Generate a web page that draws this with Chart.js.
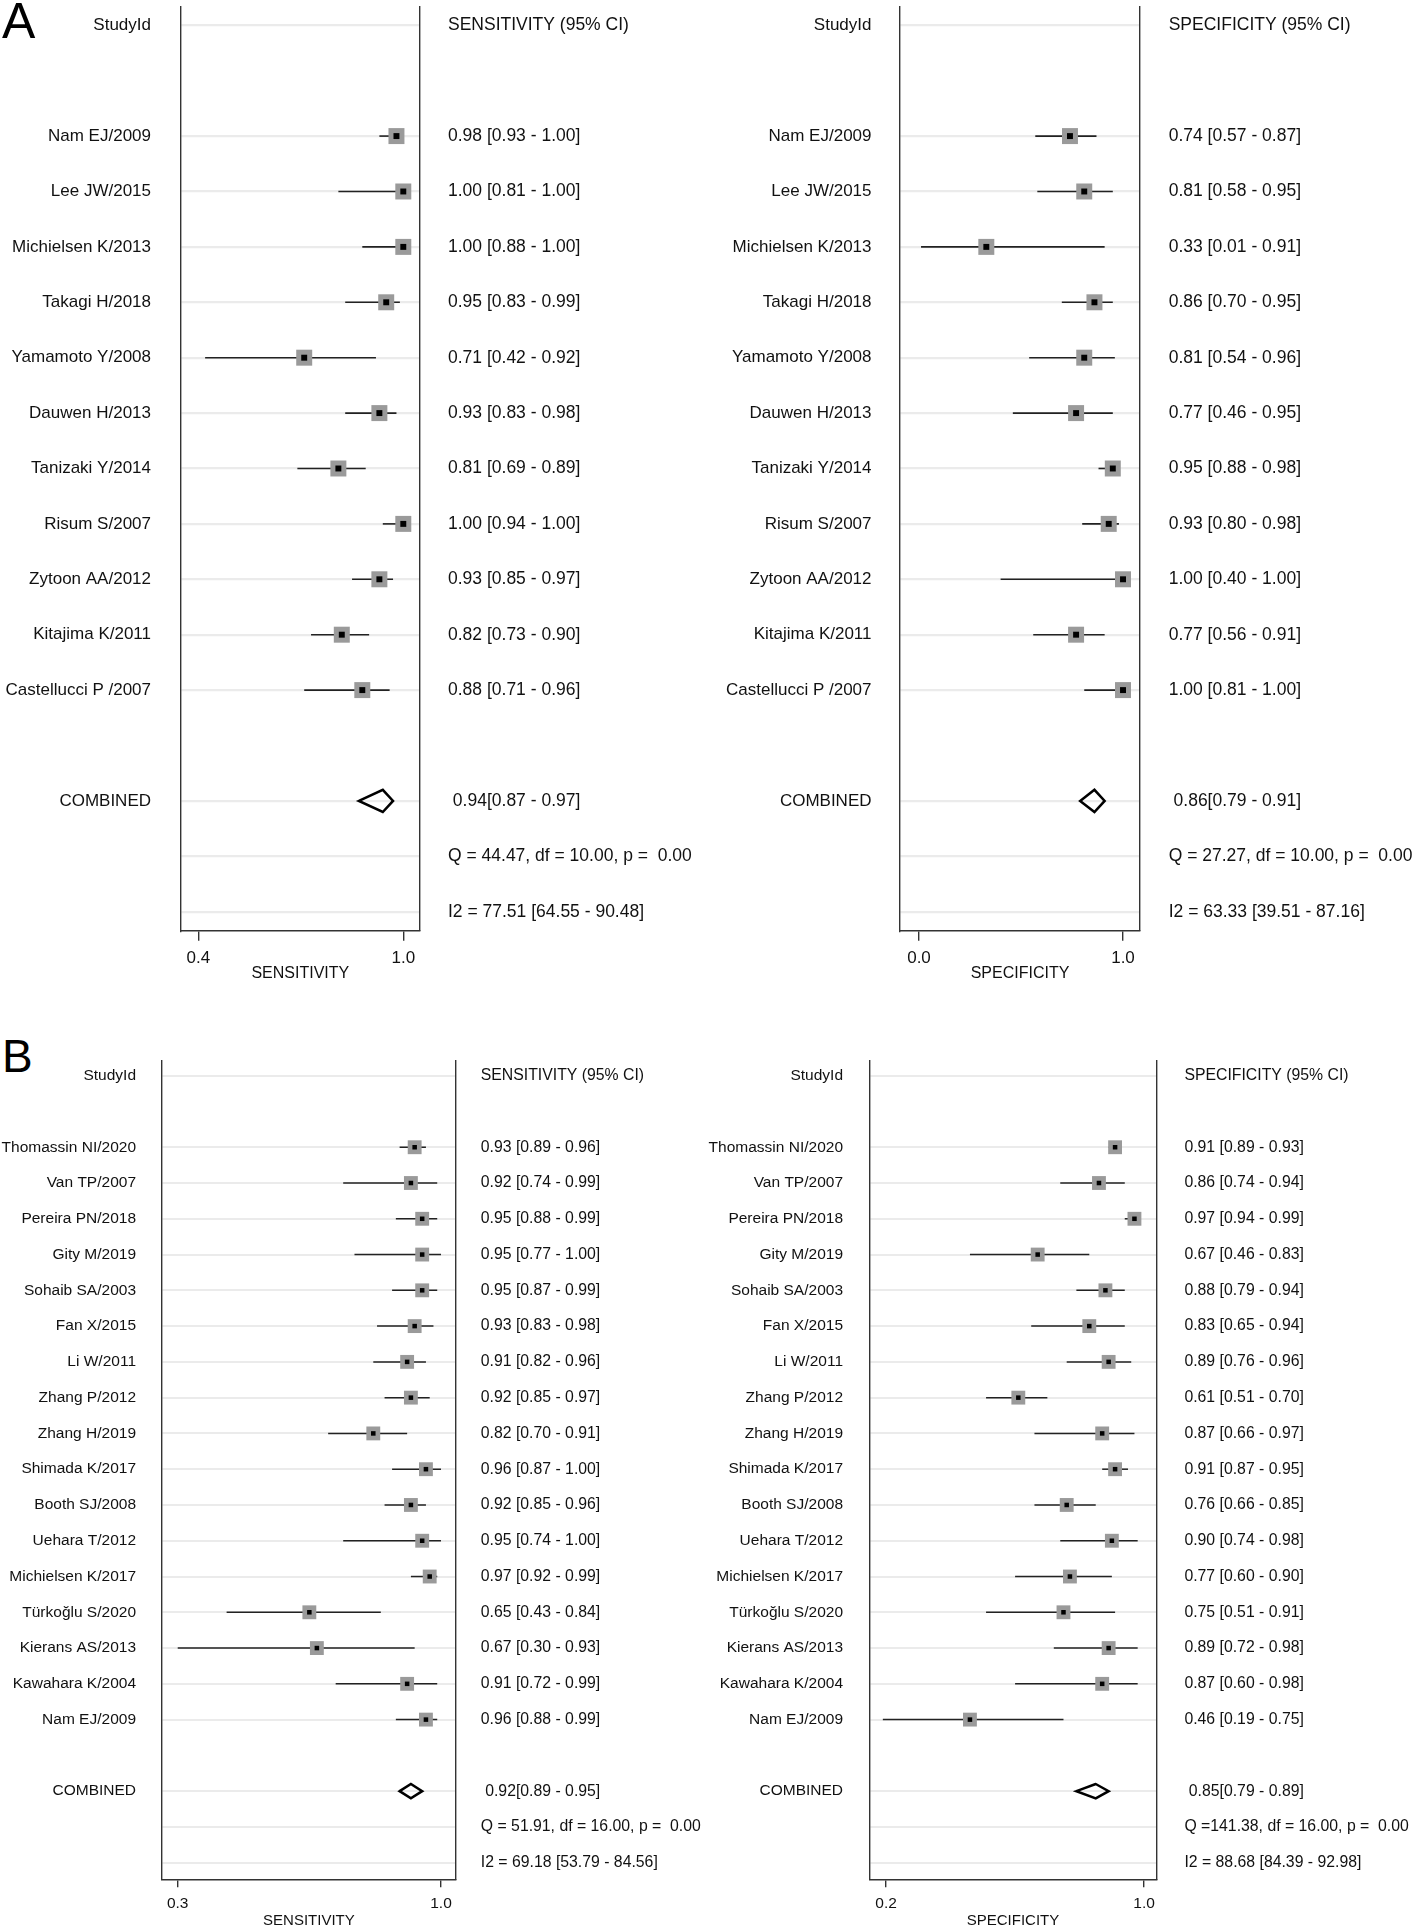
<!DOCTYPE html>
<html>
<head>
<meta charset="utf-8">
<script src="https://cdn.jsdelivr.net/npm/chart.js@4.4.1/dist/chart.umd.min.js"></script>
<style>
html,body{margin:0;padding:0;background:#fff;}
body{width:1417px;height:1930px;position:relative;overflow:hidden;}
canvas{position:absolute;}
.panel{position:absolute;left:2px;font-family:"Liberation Sans",Arial,sans-serif;color:#000;line-height:1;}
</style>
</head>
<body>
<div class="panel" style="top:-3.8px;font-size:50px;">A</div>
<div class="panel" style="top:1033px;font-size:46px;">B</div>
<canvas id="aSens" width="760" height="1000" style="left:0;top:0"></canvas>
<canvas id="aSpec" width="737" height="1000" style="left:680px;top:0"></canvas>
<canvas id="bSens" width="760" height="910" style="left:0;top:1020px"></canvas>
<canvas id="bSpec" width="737" height="910" style="left:680px;top:1020px"></canvas>
<script>
// ---------- DATA ----------
const studiesA = ["Nam EJ/2009","Lee JW/2015","Michielsen K/2013","Takagi H/2018","Yamamoto Y/2008","Dauwen H/2013","Tanizaki Y/2014","Risum S/2007","Zytoon AA/2012","Kitajima K/2011","Castellucci P /2007"];
const sensA   = [0.98,1.00,1.00,0.95,0.71,0.93,0.81,1.00,0.93,0.82,0.88];
const sensALo = [0.93,0.81,0.88,0.83,0.42,0.83,0.69,0.94,0.85,0.73,0.71];
const sensAHi = [1.00,1.00,1.00,0.99,0.92,0.98,0.89,1.00,0.97,0.90,0.96];
const specA   = [0.74,0.81,0.33,0.86,0.81,0.77,0.95,0.93,1.00,0.77,1.00];
const specALo = [0.57,0.58,0.01,0.70,0.54,0.46,0.88,0.80,0.40,0.56,0.81];
const specAHi = [0.87,0.95,0.91,0.95,0.96,0.95,0.98,0.98,1.00,0.91,1.00];
const pooledSensA = [0.94,0.87,0.97];           // estimate, lower, upper
const pooledSpecA = [0.86,0.79,0.91];
const hetSensA = [44.47,10.00,0.00,77.51,64.55,90.48]; // Q, df, p, I2, I2 lower, I2 upper
const hetSpecA = [27.27,10.00,0.00,63.33,39.51,87.16];

const studiesB = ["Thomassin NI/2020","Van TP/2007","Pereira PN/2018","Gity M/2019","Sohaib SA/2003","Fan X/2015","Li W/2011","Zhang P/2012","Zhang H/2019","Shimada K/2017","Booth SJ/2008","Uehara T/2012","Michielsen K/2017","Türkoğlu S/2020","Kierans AS/2013","Kawahara K/2004","Nam EJ/2009"];
const sensB   = [0.93,0.92,0.95,0.95,0.95,0.93,0.91,0.92,0.82,0.96,0.92,0.95,0.97,0.65,0.67,0.91,0.96];
const sensBLo = [0.89,0.74,0.88,0.77,0.87,0.83,0.82,0.85,0.70,0.87,0.85,0.74,0.92,0.43,0.30,0.72,0.88];
const sensBHi = [0.96,0.99,0.99,1.00,0.99,0.98,0.96,0.97,0.91,1.00,0.96,1.00,0.99,0.84,0.93,0.99,0.99];
const specB   = [0.91,0.86,0.97,0.67,0.88,0.83,0.89,0.61,0.87,0.91,0.76,0.90,0.77,0.75,0.89,0.87,0.46];
const specBLo = [0.89,0.74,0.94,0.46,0.79,0.65,0.76,0.51,0.66,0.87,0.66,0.74,0.60,0.51,0.72,0.60,0.19];
const specBHi = [0.93,0.94,0.99,0.83,0.94,0.94,0.96,0.70,0.97,0.95,0.85,0.98,0.90,0.91,0.98,0.98,0.75];
const pooledSensB = [0.92,0.89,0.95];
const pooledSpecB = [0.85,0.79,0.89];
const hetSensB = [51.91,16.00,0.00,69.18,53.79,84.56];
const hetSpecB = [141.38,16.00,0.00,88.68,84.39,92.98];

const xTicksSensA = [0.4, 1.0];
const xTicksSpecA = [0.0, 1.0];
const xTicksSensB = [0.3, 1.0];
const xTicksSpecB = [0.2, 1.0];

// ---------- DRAWING ----------
const FAMILY = "'Liberation Sans', Arial, Helvetica, sans-serif";
const TEXT = '#111111';
const FRAME = '#333333';

function forest(id, o) {
  const n = o.names.length;
  const rC = n + 3;
  const f2 = v => v.toFixed(2);
  const left = ['StudyId', '', ...o.names, '', 'COMBINED', '', ''];
  const right = [o.header, '',
    ...o.est.map((v, i) => `${f2(v)} [${f2(o.lo[i])} - ${f2(o.hi[i])}]`), '',
    ` ${f2(o.pooled[0])}[${f2(o.pooled[1])} - ${f2(o.pooled[2])}]`,
    `Q =${f2(o.het[0]).padStart(6)}, df =${f2(o.het[1]).padStart(6)}, p =${f2(o.het[2]).padStart(6)}`,
    `I2 = ${f2(o.het[3])} [${f2(o.het[4])} - ${f2(o.het[5])}]`];
  const hasGrid = left.map((s, i) => !!(s || right[i]));
  const rows = left.map((_, i) => ({value: i}));

  const datasets = [];
  o.est.forEach((v, i) => datasets.push({
    data: [{x: o.lo[i], y: i + 2}, {x: o.hi[i], y: i + 2}],
    showLine: true, borderColor: '#222222', borderWidth: o.ciW, pointRadius: 0, clip: false, order: 3
  }));
  const pts = o.est.map((v, i) => ({x: v, y: i + 2}));
  datasets.push({data: pts, pointStyle: 'rect', pointRadius: o.sq, backgroundColor: '#9a9a9a', borderWidth: 0, clip: false, order: 2});
  datasets.push({data: pts, pointStyle: 'rect', pointRadius: o.dot, backgroundColor: '#000', borderWidth: 0, clip: false, order: 1});
  const [pe, pl, ph] = o.pooled;
  datasets.push({
    data: [{x: pl, y: rC}, {x: pe, y: rC - 0.2}, {x: ph, y: rC}, {x: pe, y: rC + 0.2}, {x: pl, y: rC}, {x: pe, y: rC - 0.2}],
    showLine: true, borderColor: '#000', borderWidth: 2.5, pointRadius: 0, fill: false,
    borderJoinStyle: 'miter', clip: false, order: 1
  });

  const yCommon = {
    type: 'linear', axis: 'y', reverse: true, min: o.yMin, max: o.yMax, bounds: 'data',
    afterBuildTicks: s => { s.ticks = rows.map(r => ({value: r.value})); }
  };

  new Chart(document.getElementById(id), {
    type: 'scatter',
    data: {datasets},
    options: {
      responsive: false, animation: false, events: [],
      layout: {autoPadding: false, padding: {top: o.top, left: 0, right: 0, bottom: 0}},
      plugins: {legend: {display: false}, tooltip: {enabled: false}, title: {display: false}},
      scales: {
        x: {
          type: 'linear', position: 'bottom', min: o.xMin, max: o.xMax, bounds: 'data',
          afterBuildTicks: s => { s.ticks = o.xTicks.map(v => ({value: v})); },
          afterFit: s => { s.height = o.xH; s.paddingLeft = 0; s.paddingRight = 0; },
          ticks: {autoSkip: false, maxRotation: 0, padding: o.tickPad, color: TEXT,
                  font: {family: FAMILY, size: o.tickFont}, callback: v => Number(v).toFixed(1)},
          grid: {drawOnChartArea: false, drawTicks: true, tickLength: o.tickLen,
                 color: FRAME, tickColor: FRAME, lineWidth: 1.4, tickWidth: 1.4},
          border: {display: true, color: FRAME, width: 1.4},
          title: {display: true, text: o.title, color: TEXT, font: {family: FAMILY, size: o.titleFont},
                  padding: {top: 0, bottom: o.titlePad}}
        },
        y: Object.assign({}, yCommon, {
          position: 'left',
          afterFit: s => { s.width = o.leftW; s.paddingTop = 0; s.paddingBottom = 0; },
          ticks: {autoSkip: false, padding: o.padL, color: TEXT, font: {family: FAMILY, size: o.nameFont},
                  callback: v => left[v] || ''},
          grid: {drawTicks: false, lineWidth: o.gridW,
                 color: c => (c.tick && hasGrid[c.tick.value]) ? '#ebebeb' : 'rgba(0,0,0,0)'},
          border: {display: true, color: FRAME, width: 1.4}
        }),
        y2: Object.assign({}, yCommon, {
          position: 'right',
          afterFit: s => { s.width = o.rightW; s.paddingTop = 0; s.paddingBottom = 0; },
          ticks: {autoSkip: false, padding: o.padR, color: TEXT, font: {family: FAMILY, size: o.valFont},
                  callback: v => right[v] || ''},
          grid: {drawTicks: false, drawOnChartArea: false, color: 'rgba(0,0,0,0)'},
          border: {display: true, color: FRAME, width: 1.4}
        })
      }
    }
  });
}

const styleA = {top: 7, xH: 69.3, yMin: -0.330, yMax: 16.343, tickPad: 7, tickLen: 10, tickFont: 17,
  titleFont: 16, titlePad: 16.4, nameFont: 17, valFont: 17.5, sq: 11.3, dot: 4.2, ciW: 1.6, gridW: 2.2};
const styleB = {top: 40.7, xH: 50.7, yMin: -0.419, yMax: 22.464, tickPad: 7.4, tickLen: 8, tickFont: 15.5,
  titleFont: 15, titlePad: 0, nameFont: 15.5, valFont: 15.8, sq: 9.8, dot: 3.2, ciW: 1.5, gridW: 2};

forest('aSens', Object.assign({}, styleA, {
  names: studiesA, est: sensA, lo: sensALo, hi: sensAHi, pooled: pooledSensA, het: hetSensA,
  header: 'SENSITIVITY (95% CI)', title: 'SENSITIVITY', xTicks: xTicksSensA,
  xMin: 0.3485, xMax: 1.0489, leftW: 180.7, rightW: 340, padL: 29.7, padR: 28
}));
forest('aSpec', Object.assign({}, styleA, {
  names: studiesA, est: specA, lo: specALo, hi: specAHi, pooled: pooledSpecA, het: hetSpecA,
  header: 'SPECIFICITY (95% CI)', title: 'SPECIFICITY', xTicks: xTicksSpecA,
  xMin: -0.0931, xMax: 1.0833, leftW: 220, rightW: 277, padL: 28.5, padR: 28.7
}));
forest('bSens', Object.assign({}, styleB, {
  names: studiesB, est: sensB, lo: sensBLo, hi: sensBHi, pooled: pooledSensB, het: hetSensB,
  header: 'SENSITIVITY (95% CI)', title: 'SENSITIVITY', xTicks: xTicksSensB,
  xMin: 0.2582, xMax: 1.0394, leftW: 162, rightW: 304.2, padL: 26, padR: 25
}));
forest('bSpec', Object.assign({}, styleB, {
  names: studiesB, est: specB, lo: specBLo, hi: specBHi, pooled: pooledSpecB, het: hetSpecB,
  header: 'SPECIFICITY (95% CI)', title: 'SPECIFICITY', xTicks: xTicksSpecB,
  xMin: 0.148, xMax: 1.039, leftW: 189.3, rightW: 260.3, padL: 26.3, padR: 27.7
}));
</script>
</body>
</html>
